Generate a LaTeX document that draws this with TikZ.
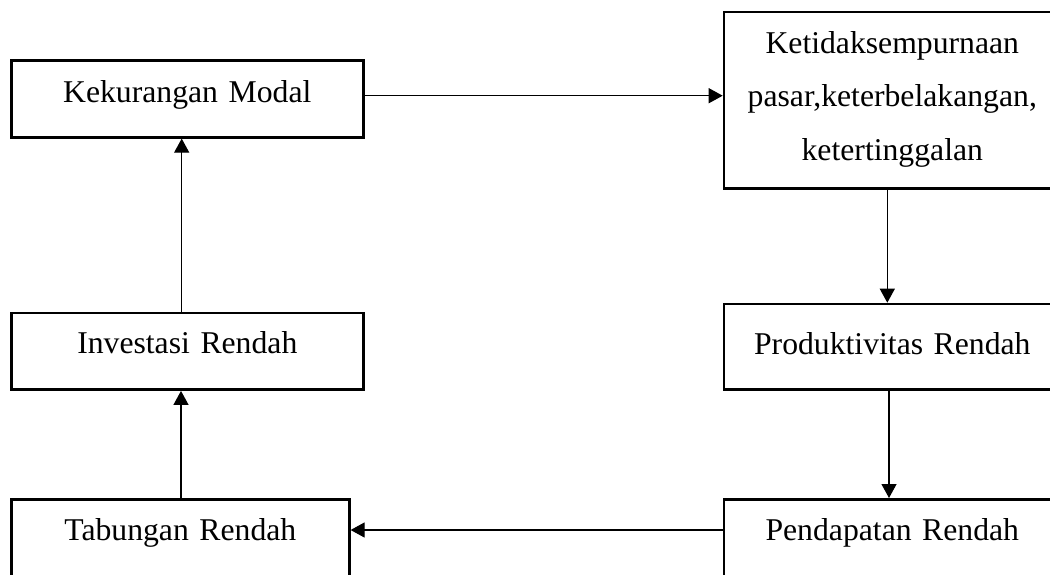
\documentclass[tikz,border=0pt]{standalone}
\usepackage{fontspec}
\setmainfont{Liberation Serif}
\usetikzlibrary{arrows.meta,calc}
\begin{document}
\begin{tikzpicture}[x=1pt,y=-1pt,
  box/.style={draw,line width=2.6pt,inner sep=0pt,align=center,anchor=north west,
    font=\fontsize{31.7}{53.5}\selectfont},
  arr/.style={line width=1.2pt,-{Triangle[length=14pt,width=15pt]}}]
\useasboundingbox (0,0) rectangle (1050,574);
\clip (0,0) rectangle (1050,574);
\node[box,text width=352pt,text height=42pt,text depth=35pt] (KM) at (10,59) {Kekurangan Modal};
\node[box,text width=336.6pt,text height=41.3pt,text depth=135.3pt] (KT) at (722.7,10.7) {Ketidaksempurnaan\\pasar,keterbelakangan,\\ketertinggalan};
\node[box,text width=352pt,text height=40.6pt,text depth=36pt] (IR) at (10,311.7) {Investasi Rendah};
\node[box,text width=336.6pt,text height=50.6pt,text depth=35pt] (PD) at (722.7,302.7) {Produktivitas Rendah};
\node[box,text width=338pt,text height=41pt,text depth=51pt] (TR) at (10,498) {Tabungan Rendah};
\node[box,text width=336.6pt,text height=41pt,text depth=51pt] (PR) at (722.7,498) {Pendapatan Rendah};
\coordinate (a1) at ($(KM.north east)+(0,36.7)$);
\coordinate (a2) at ($(IR.north west)+(171.7,0)$);
\coordinate (a3) at ($(KT.south west)+(164.6,0)$);
\coordinate (a4) at ($(PD.south west)+(166.3,0)$);
\coordinate (a5) at ($(TR.north west)+(171,0)$);
\coordinate (a6) at ($(PR.north west)+(0,32)$);
\draw[arr] (a1) -- (a1 -| KT.west);
\draw[arr] (a2) -- (a2 |- KM.south);
\draw[arr] (a3) -- (a3 |- PD.north);
\draw[arr] (a4) -- (a4 |- PR.north);
\draw[arr] (a5) -- (a5 |- IR.south);
\draw[arr] (a6) -- (a6 -| TR.east);
\end{tikzpicture}
\end{document}
